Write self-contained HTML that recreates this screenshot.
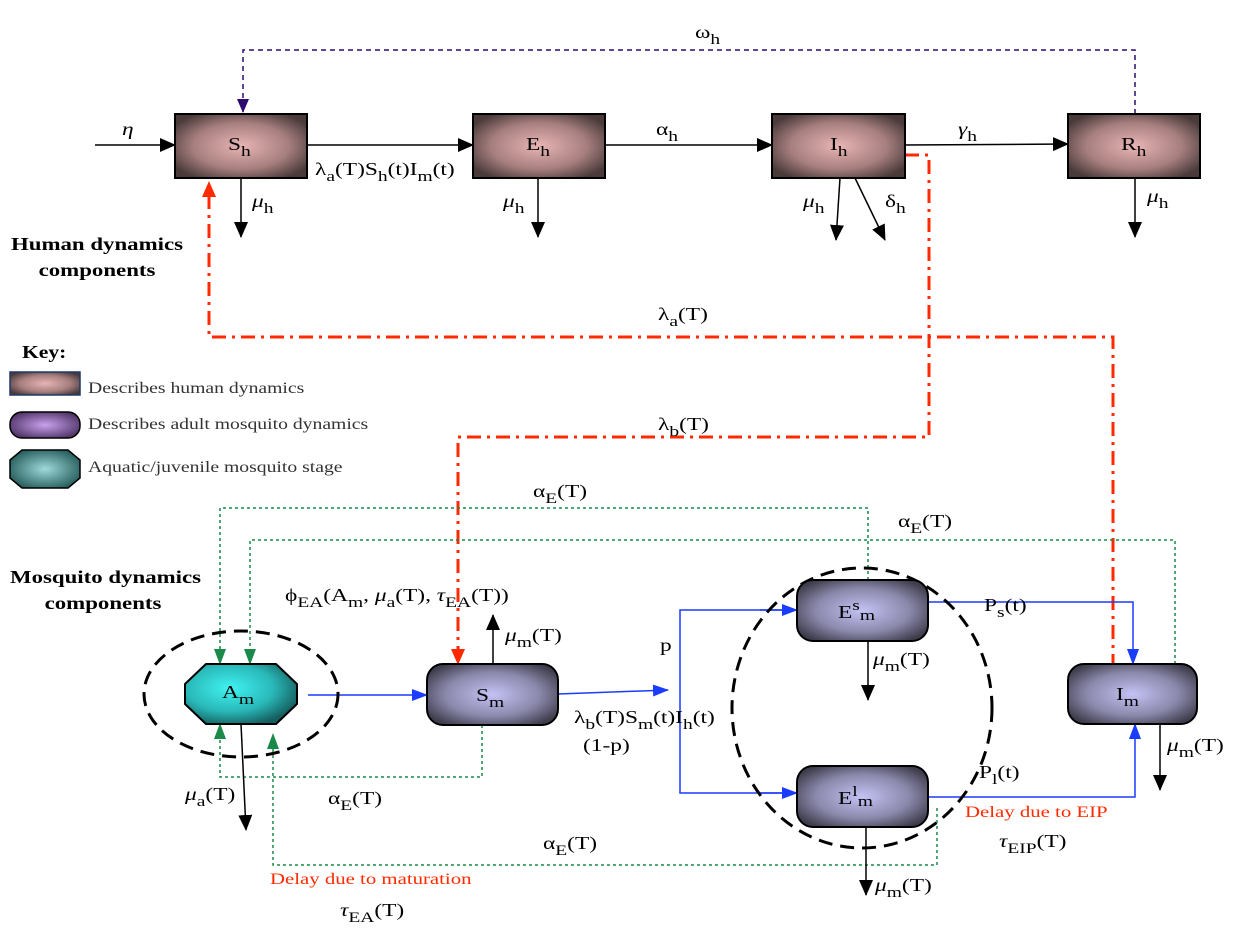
<!DOCTYPE html>
<html><head><meta charset="utf-8"><style>
html,body{margin:0;padding:0;background:#fff;}
svg{display:block;}
text{font-family:"Liberation Serif",serif;font-size:18px;fill:#000;}
tspan.s{font-size:15px;}
.b{font-weight:bold;font-size:18px;}
.k{font-size:16px;fill:#333;}
.r{fill:#ff2a00;font-size:16px;}
</style></head><body>
<svg width="1240" height="937" viewBox="0 0 1240 937" xmlns="http://www.w3.org/2000/svg">
<defs>
<radialGradient id="hg" cx="50%" cy="50%" r="60%"><stop offset="0" stop-color="#e8b4b4"/><stop offset="0.6" stop-color="#a77f7f"/><stop offset="1" stop-color="#4a3a3a"/></radialGradient>
<radialGradient id="mg" cx="50%" cy="50%" r="60%"><stop offset="0" stop-color="#c4c2f4"/><stop offset="0.6" stop-color="#8a88aa"/><stop offset="1" stop-color="#3e3d4c"/></radialGradient>
<radialGradient id="ag" cx="40%" cy="40%" r="65%"><stop offset="0" stop-color="#40f2f2"/><stop offset="0.6" stop-color="#2ab8b8"/><stop offset="1" stop-color="#155e5e"/></radialGradient>
<radialGradient id="pg" cx="50%" cy="50%" r="60%"><stop offset="0" stop-color="#c9a2ee"/><stop offset="1" stop-color="#4a2e60"/></radialGradient>
<radialGradient id="tg" cx="50%" cy="50%" r="60%"><stop offset="0" stop-color="#9fdada"/><stop offset="1" stop-color="#1f5555"/></radialGradient>
<marker id="ab" markerWidth="16" markerHeight="16" refX="15" refY="8" orient="auto" markerUnits="userSpaceOnUse" viewBox="0 0 16 16"><path d="M0,2L16,8L0,14z" fill="#1a3cff"/></marker>
<marker id="ag2" markerWidth="16" markerHeight="16" refX="15" refY="8" orient="auto" markerUnits="userSpaceOnUse" viewBox="0 0 16 16"><path d="M0,2L16,8L0,14z" fill="#1a8a4a"/></marker>
<marker id="ar" markerWidth="16" markerHeight="16" refX="15" refY="8" orient="auto" markerUnits="userSpaceOnUse" viewBox="0 0 16 16"><path d="M0,1L16,8L0,15z" fill="#ff2a00"/></marker>
<marker id="ap" markerWidth="14" markerHeight="14" refX="13" refY="7" orient="auto" markerUnits="userSpaceOnUse" viewBox="0 0 14 14"><path d="M0,1L14,7L0,13z" fill="#2e0a6e"/></marker>
<marker id="akb" markerWidth="16" markerHeight="16" refX="15" refY="8" orient="auto" markerUnits="userSpaceOnUse" viewBox="0 0 16 16"><path d="M0,1L16,8L0,15z" fill="#000"/></marker>
</defs>

<polyline points="1135,114 1135,50 243,50 243,112" fill="none" stroke="#2e0a6e" stroke-width="1.5" stroke-dasharray="5,4" marker-end="url(#ap)"/>
<text transform="translate(695,38) scale(1.3,1)">ω<tspan class="s" dy="6">h</tspan></text>

<polyline points="1113,668 1113,337 209,337 209,182" fill="none" stroke="#ff2a00" stroke-width="3" stroke-dasharray="14,6,3,6" marker-end="url(#ar)"/>
<polyline points="905,155 929,155 929,437 458,437 458,664" fill="none" stroke="#ff2a00" stroke-width="3" stroke-dasharray="14,6,3,6" marker-end="url(#ar)"/>
<text transform="translate(658,320) scale(1.3,1)">λ<tspan class="s" dy="6">a</tspan><tspan dy="-6">(T)</tspan></text>
<text transform="translate(658,430) scale(1.3,1)">λ<tspan class="s" dy="6">b</tspan><tspan dy="-6">(T)</tspan></text>

<line x1="95" y1="145" x2="175" y2="145" stroke="#000" stroke-width="1.5" marker-end="url(#akb)"/>
<line x1="307" y1="145" x2="473" y2="145" stroke="#000" stroke-width="1.5" marker-end="url(#akb)"/>
<line x1="605" y1="145" x2="772" y2="145" stroke="#000" stroke-width="1.5" marker-end="url(#akb)"/>
<line x1="905" y1="145" x2="1068" y2="144" stroke="#000" stroke-width="1.5" marker-end="url(#akb)"/>
<line x1="241" y1="178" x2="241" y2="237" stroke="#000" stroke-width="1.5" marker-end="url(#akb)"/>
<line x1="538" y1="178" x2="538" y2="237" stroke="#000" stroke-width="1.5" marker-end="url(#akb)"/>
<line x1="840" y1="178" x2="836" y2="240" stroke="#000" stroke-width="1.5" marker-end="url(#akb)"/>
<line x1="855" y1="178" x2="885" y2="240" stroke="#000" stroke-width="1.5" marker-end="url(#akb)"/>
<line x1="1135" y1="178" x2="1135" y2="237" stroke="#000" stroke-width="1.5" marker-end="url(#akb)"/>
<text transform="translate(122,135) scale(1.3,1)" font-style="italic">η</text>
<text transform="translate(315,175) scale(1.3,1)">λ<tspan class="s" dy="6">a</tspan><tspan dy="-6">(T)S</tspan><tspan class="s" dy="6">h</tspan><tspan dy="-6">(t)I</tspan><tspan class="s" dy="6">m</tspan><tspan dy="-6">(t)</tspan></text>
<text transform="translate(656,135) scale(1.3,1)">α<tspan class="s" dy="6">h</tspan></text>
<text transform="translate(958,135) scale(1.3,1)" font-style="italic">γ<tspan class="s" dy="6" font-style="normal">h</tspan></text>
<text transform="translate(252,207) scale(1.3,1)"><tspan font-style="italic">μ</tspan><tspan class="s" dy="6">h</tspan></text>
<text transform="translate(503,207) scale(1.3,1)"><tspan font-style="italic">μ</tspan><tspan class="s" dy="6">h</tspan></text>
<text transform="translate(803,207) scale(1.3,1)"><tspan font-style="italic">μ</tspan><tspan class="s" dy="6">h</tspan></text>
<text transform="translate(885,207) scale(1.3,1)">δ<tspan class="s" dy="6">h</tspan></text>
<text transform="translate(1147,202) scale(1.3,1)"><tspan font-style="italic">μ</tspan><tspan class="s" dy="6">h</tspan></text>

<g stroke="#000" stroke-width="2" fill="url(#hg)">
<rect x="175" y="114" width="132" height="64"/>
<rect x="473" y="114" width="132" height="64"/>
<rect x="772" y="114" width="133" height="64"/>
<rect x="1068" y="114" width="132" height="64"/>
</g>
<text transform="translate(228,150) scale(1.3,1)">S<tspan class="s" dy="6">h</tspan></text>
<text transform="translate(526,150) scale(1.3,1)">E<tspan class="s" dy="6">h</tspan></text>
<text transform="translate(830,150) scale(1.3,1)">I<tspan class="s" dy="6">h</tspan></text>
<text transform="translate(1121,150) scale(1.3,1)">R<tspan class="s" dy="6">h</tspan></text>

<text class="b" transform="translate(97,250) scale(1.27,1)" text-anchor="middle">Human dynamics</text>
<text class="b" transform="translate(97,276) scale(1.27,1)" text-anchor="middle">components</text>

<text transform="translate(22,358) scale(1.2,1)" font-weight="bold" font-size="16">Key:</text>
<rect x="10" y="372" width="70" height="23" fill="url(#hg)" stroke="#1d3a6a" stroke-width="1.5"/>
<text class="k" transform="translate(88,393) scale(1.23,1)">Describes human dynamics</text>
<rect x="10" y="412" width="70" height="26" rx="12" fill="url(#pg)" stroke="#000" stroke-width="1.5"/>
<text class="k" transform="translate(88,429) scale(1.23,1)">Describes adult mosquito dynamics</text>
<path d="M22,450 L68,450 L80,460 L80,478 L68,488 L22,488 L10,478 L10,460z" fill="url(#tg)" stroke="#000" stroke-width="1.5"/>
<text class="k" transform="translate(88,472) scale(1.23,1)">Aquatic/juvenile mosquito stage</text>

<text class="b" transform="translate(10,583) scale(1.27,1)">Mosquito dynamics</text>
<text class="b" transform="translate(103,609) scale(1.27,1)" text-anchor="middle">components</text>

<g fill="none" stroke="#1a8a4a" stroke-width="1.5" stroke-dasharray="3,3">
<polyline points="868,580 868,508 220,508 220,664" marker-end="url(#ag2)"/>
<polyline points="1175,664 1175,540 250,540 250,664" marker-end="url(#ag2)"/>
<polyline points="482,725 482,777 220,777 220,724" marker-end="url(#ag2)"/>
<polyline points="937,808 937,865 273,865 273,734" marker-end="url(#ag2)"/>
</g>
<text transform="translate(533,497) scale(1.3,1)">α<tspan class="s" dy="6">E</tspan><tspan dy="-6">(T)</tspan></text>
<text transform="translate(898,527) scale(1.3,1)">α<tspan class="s" dy="6">E</tspan><tspan dy="-6">(T)</tspan></text>
<text transform="translate(328,804) scale(1.3,1)">α<tspan class="s" dy="6">E</tspan><tspan dy="-6">(T)</tspan></text>
<text transform="translate(543,849) scale(1.3,1)">α<tspan class="s" dy="6">E</tspan><tspan dy="-6">(T)</tspan></text>

<g fill="none" stroke="#1a3cff" stroke-width="1.5">
<line x1="308" y1="695" x2="427" y2="695" marker-end="url(#ab)"/>
<line x1="558" y1="694" x2="668" y2="690" marker-end="url(#ab)"/>
<polyline points="797,610 680,610 680,793 797,793"/>
<line x1="760" y1="610" x2="797" y2="610" marker-end="url(#ab)"/>
<line x1="760" y1="793" x2="797" y2="793" marker-end="url(#ab)"/>
<polyline points="928,602 1133,602 1133,664" marker-end="url(#ab)"/>
<polyline points="928,797 1135,797 1135,724" marker-end="url(#ab)"/>
</g>

<line x1="241" y1="724" x2="246" y2="830" stroke="#000" stroke-width="1.5" marker-end="url(#akb)"/>
<line x1="493" y1="664" x2="493" y2="615" stroke="#000" stroke-width="1.5" marker-end="url(#akb)"/>
<line x1="868" y1="641" x2="868" y2="700" stroke="#000" stroke-width="1.5" marker-end="url(#akb)"/>
<line x1="866" y1="827" x2="866" y2="895" stroke="#000" stroke-width="1.5" marker-end="url(#akb)"/>
<line x1="1160" y1="724" x2="1160" y2="790" stroke="#000" stroke-width="1.5" marker-end="url(#akb)"/>

<ellipse cx="241" cy="694" rx="97" ry="63" fill="none" stroke="#000" stroke-width="3" stroke-dasharray="14,8"/>
<ellipse cx="862" cy="708" rx="130" ry="140" fill="none" stroke="#000" stroke-width="3" stroke-dasharray="14,8"/>

<path d="M206,664 L276,664 L297,684 L297,704 L276,724 L206,724 L185,704 L185,684z" fill="url(#ag)" stroke="#000" stroke-width="2" stroke-linejoin="round"/>
<g stroke="#000" stroke-width="2" fill="url(#mg)">
<rect x="427" y="664" width="131" height="61" rx="16"/>
<rect x="797" y="580" width="131" height="61" rx="16"/>
<rect x="797" y="766" width="131" height="61" rx="16"/>
<rect x="1068" y="664" width="129" height="60" rx="16"/>
</g>
<text transform="translate(222,698) scale(1.3,1)">A<tspan class="s" dy="6">m</tspan></text>
<text transform="translate(476,701) scale(1.3,1)">S<tspan class="s" dy="6">m</tspan></text>
<text transform="translate(838,618) scale(1.3,1)">E<tspan class="s" dy="-8">s</tspan><tspan class="s" dy="10">m</tspan></text>
<text transform="translate(838,804) scale(1.3,1)">E<tspan class="s" dy="-8">l</tspan><tspan class="s" dy="10">m</tspan></text>
<text transform="translate(1116,700) scale(1.3,1)">I<tspan class="s" dy="6">m</tspan></text>

<text transform="translate(285,601) scale(1.3,1)">ϕ<tspan class="s" dy="6">EA</tspan><tspan dy="-6">(A</tspan><tspan class="s" dy="6">m</tspan><tspan dy="-6">, </tspan><tspan font-style="italic">μ</tspan><tspan class="s" dy="6">a</tspan><tspan dy="-6">(T), </tspan><tspan font-style="italic">τ</tspan><tspan class="s" dy="6">EA</tspan><tspan dy="-6">(T))</tspan></text>
<text transform="translate(505,641) scale(1.3,1)"><tspan font-style="italic">μ</tspan><tspan class="s" dy="6">m</tspan><tspan dy="-6">(T)</tspan></text>
<text transform="translate(185,800) scale(1.3,1)"><tspan font-style="italic">μ</tspan><tspan class="s" dy="6">a</tspan><tspan dy="-6">(T)</tspan></text>
<text transform="translate(660,651) scale(1.3,1)">p</text>
<text transform="translate(574,723) scale(1.3,1)">λ<tspan class="s" dy="6">b</tspan><tspan dy="-6">(T)S</tspan><tspan class="s" dy="6">m</tspan><tspan dy="-6">(t)I</tspan><tspan class="s" dy="6">h</tspan><tspan dy="-6">(t)</tspan></text>
<text transform="translate(583,751) scale(1.3,1)">(1-p)</text>
<text transform="translate(873,665) scale(1.3,1)"><tspan font-style="italic">μ</tspan><tspan class="s" dy="6">m</tspan><tspan dy="-6">(T)</tspan></text>
<text transform="translate(875,891) scale(1.3,1)"><tspan font-style="italic">μ</tspan><tspan class="s" dy="6">m</tspan><tspan dy="-6">(T)</tspan></text>
<text transform="translate(1167,751) scale(1.3,1)"><tspan font-style="italic">μ</tspan><tspan class="s" dy="6">m</tspan><tspan dy="-6">(T)</tspan></text>
<text transform="translate(984,611) scale(1.3,1)">P<tspan class="s" dy="6">s</tspan><tspan dy="-6">(t)</tspan></text>
<text transform="translate(979,778) scale(1.3,1)">P<tspan class="s" dy="6">l</tspan><tspan dy="-6">(t)</tspan></text>
<text class="r" transform="translate(965,817) scale(1.3,1)">Delay due to EIP</text>
<text transform="translate(999,847) scale(1.3,1)"><tspan font-style="italic">τ</tspan><tspan class="s" dy="6">EIP</tspan><tspan dy="-6">(T)</tspan></text>
<text class="r" transform="translate(270,884) scale(1.3,1)">Delay due to maturation</text>
<text transform="translate(340,916) scale(1.3,1)"><tspan font-style="italic">τ</tspan><tspan class="s" dy="6">EA</tspan><tspan dy="-6">(T)</tspan></text>
</svg>
</body></html>
